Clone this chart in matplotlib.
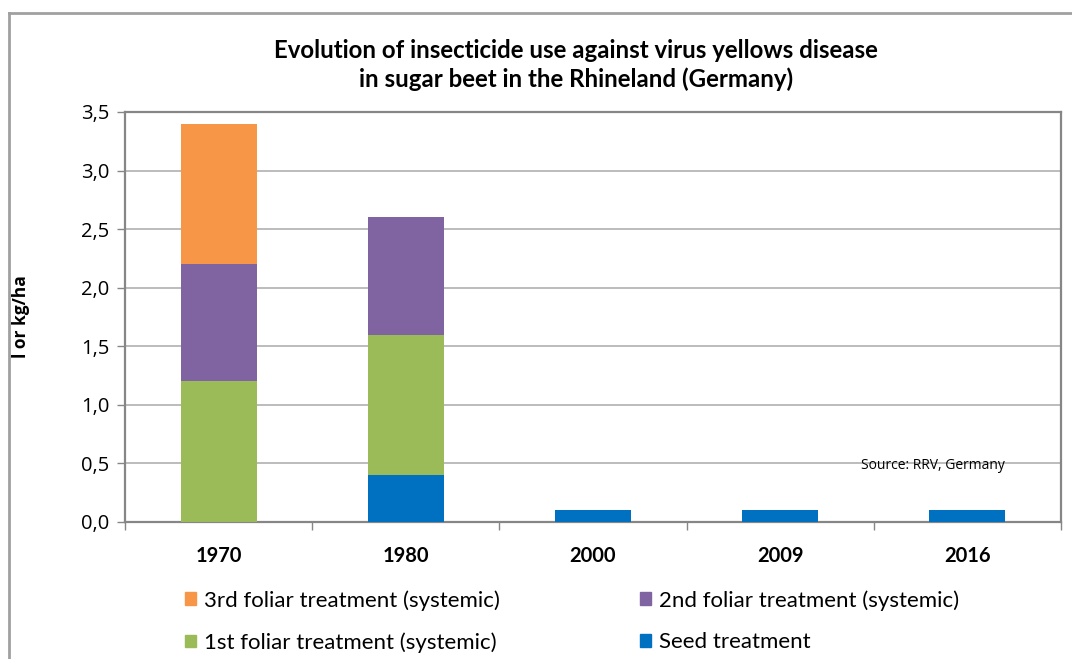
import matplotlib
matplotlib.use("Agg")
import matplotlib.pyplot as plt
from matplotlib.lines import Line2D
from matplotlib.patches import Patch
from matplotlib.ticker import FuncFormatter, FixedLocator
import numpy as np

years = ["1970", "1980", "2000", "2009", "2016"]
seed = [0.0, 0.4, 0.1, 0.1, 0.1]
first_foliar = [1.2, 1.2, 0.0, 0.0, 0.0]
second_foliar = [1.0, 1.0, 0.0, 0.0, 0.0]
third_foliar = [1.2, 0.0, 0.0, 0.0, 0.0]

c_seed = "#0070C0"
c_first = "#9BBB59"
c_second = "#8064A2"
c_third = "#F79646"

cond = ["Lato", "DejaVu Sans"]
plain = ["Open Sans", "DejaVu Sans"]

W, H = 1072, 659
fig = plt.figure(figsize=(W / 100, H / 100), dpi=100)
ax = fig.add_axes([125 / W, 1 - 522 / H, (1061 - 125) / W, (522 - 112) / H])

x = np.arange(len(years))
bw = 0.405
b1 = np.array(seed)
b2 = b1 + np.array(first_foliar)
b3 = b2 + np.array(second_foliar)
ax.bar(x, seed, bw, color=c_seed, zorder=3)
ax.bar(x, first_foliar, bw, bottom=b1, color=c_first, zorder=3)
ax.bar(x, second_foliar, bw, bottom=b2, color=c_second, zorder=3)
ax.bar(x, third_foliar, bw, bottom=b3, color=c_third, zorder=3)

ax.set_xlim(-0.5, len(years) - 0.5)
ax.set_ylim(0, 3.5)
ax.set_yticks(np.arange(0, 3.51, 0.5))
ax.yaxis.set_major_formatter(FuncFormatter(lambda v, p: f"{v:.1f}".replace(".", ",")))
ax.grid(axis="y", color="#B0B0B0", linewidth=1.2, zorder=0)

ax.set_xticks(x)
ax.set_xticklabels(years, fontfamily=cond, fontweight="bold", fontsize=14.5)
ax.xaxis.set_minor_locator(FixedLocator(np.arange(-0.5, len(years), 1.0)))
ax.tick_params(axis="x", which="major", length=0, pad=17)
ax.tick_params(axis="x", which="minor", length=6, color="#868686", width=1)
ax.tick_params(axis="y", length=6, color="#868686", width=1, pad=5, labelsize=14.5)
for lab in ax.get_yticklabels():
    lab.set_fontfamily(plain)

for s in ax.spines.values():
    s.set_color("#868686")
    s.set_linewidth(1.6)

ax.set_ylabel("l or kg/ha", fontfamily=plain, fontweight="bold", fontsize=12.5)
ax.yaxis.set_label_coords(-95 / (1061 - 125), 0.5)

fig.text(576 / W, 1 - 51 / H, "Evolution of insecticide use against virus yellows disease",
         ha="center", va="center", fontfamily=cond, fontweight="bold", fontsize=17.3)
fig.text(576 / W, 1 - 79 / H, "in sugar beet in the Rhineland (Germany)",
         ha="center", va="center", fontfamily=cond, fontweight="bold", fontsize=17.3)

ax.text((933 - 125) / (1061 - 125), 0.137, "Source: RRV, Germany", transform=ax.transAxes,
        ha="center", va="center", fontfamily=plain, fontsize=10, zorder=4)

handles = [Patch(color=c_third), Patch(color=c_first), Patch(color=c_second), Patch(color=c_seed)]
labels = ["3rd foliar treatment (systemic)", "1st foliar treatment (systemic)",
          "2nd foliar treatment (systemic)", "Seed treatment"]
fig.legend(handles, labels, ncol=2, loc="upper left", bbox_to_anchor=(185 / W, 1 - 590 / H),
           frameon=False, prop={"family": cond, "size": 16}, handlelength=0.5, handleheight=0.5,
           handletextpad=0.35, columnspacing=6.3, labelspacing=0.98, borderaxespad=0,
           borderpad=0)

fig.add_artist(Line2D([9 / W, 9 / W], [0, 1 - 13 / H], transform=fig.transFigure, color="#A0A0A0", lw=2))
fig.add_artist(Line2D([9 / W, 1], [1 - 13 / H, 1 - 13 / H], transform=fig.transFigure, color="#A0A0A0", lw=2))

fig.savefig("out.png", dpi=100)
